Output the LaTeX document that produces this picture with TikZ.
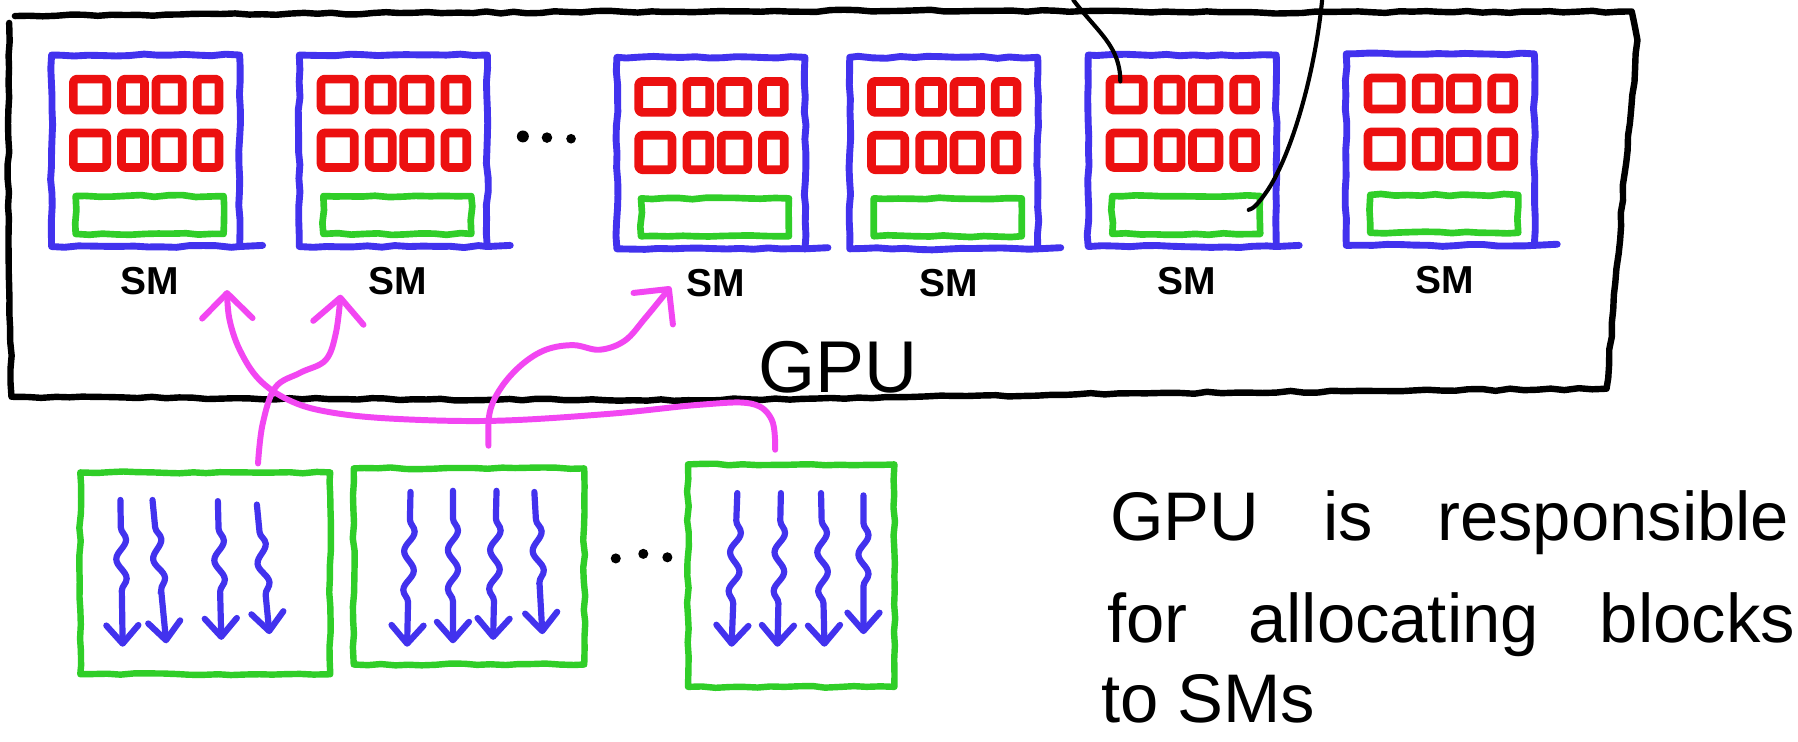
\documentclass[tikz,border=0pt]{standalone}
\usepackage{fontspec}
\setmainfont{Liberation Sans}
\usetikzlibrary{arrows.meta,decorations.pathmorphing}
\definecolor{penblue}{RGB}{66,50,238}
\definecolor{penred}{RGB}{236,16,16}
\definecolor{pengreen}{RGB}{48,206,40}
\definecolor{penmag}{RGB}{242,70,242}
\newcommand\smunit[3]{%
  \node[smbox] (#1) at ({#2+85},{#3+86.5}) {};
  \begin{scope}[shift={(#2,#3)}]
    \draw[blueline] (167,170) -- (187,169);
    \foreach \xa/\xb in {22/51,64/84,94/117,130/149}{
      \draw[redsq] (\xa,24) rectangle (\xb,51);
      \draw[redsq] (\xa,71) rectangle (\xb,101);
    }
    \draw[greenbar] (24,126) rectangle (153,159);
    \coordinate (#1r) at (35,37);
    \coordinate (#1g) at (88,142);
  \end{scope}
  \node[smlabel] (#1lab) at ({#2+89},{#3+200}) {SM};
}
\begin{document}
\begin{tikzpicture}[x=0.5pt,y=-0.5pt,
  hand/.style={decorate,decoration={random steps,segment length=6pt,amplitude=0.45pt},line join=round,line cap=round},
  smbox/.style={draw=penblue,line width=3pt,hand,minimum width=82pt,minimum height=83.5pt,inner sep=0pt},
  blueline/.style={draw=penblue,line width=3pt,line cap=round},
  redsq/.style={draw=penred,line width=3.8pt,line join=round,rounded corners=1.5pt},
  greenbar/.style={draw=pengreen,line width=2.9pt,hand},
  blockbox/.style={draw=pengreen,line width=2.8pt,hand,inner sep=0pt},
  thread/.style={draw=penblue,line width=2.7pt,line cap=round,
    -{Straight Barb[length=8pt,width=14pt,round]},
    decorate,decoration={snake,amplitude=2.2pt,segment length=17pt,pre length=12pt,post length=16pt}},
  alloc/.style={draw=penmag,line width=2.6pt,line cap=round,
    -{Straight Barb[length=11pt,width=22pt,round]}},
  wire/.style={draw=black,line width=1.8pt,line cap=round},
  gpuline/.style={draw=black,line width=2.8pt,hand},
  smlabel/.style={font=\fontsize{17}{20}\selectfont\bfseries,inner sep=0pt},
  rtext/.style={font=\fontsize{30}{36}\selectfont,inner sep=0pt,anchor=base west}]
\pgfmathsetseed{7}
\fill[white] (0,0) rectangle (1568,647);
\useasboundingbox (0,0) rectangle (1568,647);

% GPU outline
\draw[gpuline] (13,14) -- (400,11) -- (800,9) -- (1100,11) -- (1423,10) -- (1428,35)
  -- (1417,150) -- (1401,339) -- (1000,343) -- (600,349) -- (300,348) -- (10,346)
  -- (7,180) -- (8,20);

% SMs
\smunit{sm1}{42}{45}
\smunit{sm2}{258}{45}
\smunit{sm3}{535}{47}
\smunit{sm4}{738}{47}
\smunit{sm5}{946}{45}
\smunit{sm6}{1171}{44}

% dots between SMs
\fill (456,119) circle[radius=2.6pt];
\fill (477,120) circle[radius=2.3pt];
\fill (498,121) circle[radius=2.1pt];

% wires from above
\coordinate (wa) at (936,0);
\coordinate (wb) at (1153,0);
\draw[wire] (wa) .. controls (957,28) and (977,40) .. ([shift={(-4,-11)}]sm5r);
\draw[wire] (wb) .. controls (1146,70) and (1124,140) .. (1104,168)
  .. controls (1097,178) and (1093,182) .. ([shift={(55,-4)}]sm5g);

% GPU label
\node[font=\fontsize{32}{36}\selectfont,inner sep=0pt] (gpulab) at (731,320) {GPU};

% blocks
\node[blockbox,minimum width=109pt,minimum height=88pt] (b1) at (179,500) {};
\node[blockbox,minimum width=100.5pt,minimum height=85.5pt] (b2) at (409,494) {};
\node[blockbox,minimum width=90pt,minimum height=97pt] (b3) at (690,502) {};

% threads
\draw[thread] (105,436) -- (107,564);
\draw[thread] (133,436) -- (145,561);
\draw[thread] (190,437) -- (193,558);
\draw[thread] (224,440) -- (235,553);
\draw[thread] (358,429) -- (355,564);
\draw[thread] (395,428) -- (395,561);
\draw[thread] (433,428) -- (430,558);
\draw[thread] (466,429) -- (473,553);
\draw[thread] (643,430) -- (638,564);
\draw[thread] (681,430) -- (678,564);
\draw[thread] (716,430) -- (719,564);
\draw[thread] (753,432) -- (753,553);

% dots between blocks
\fill (537,487) circle[radius=2.2pt];
\fill (561,483) circle[radius=2.2pt];
\fill (582,486) circle[radius=2.2pt];

% allocation arrows
\coordinate (c1s) at ([shift={(46,-5)}]b1.north);
\coordinate (c1e) at ([shift={(39,39)}]sm2.south west);
\draw[alloc] plot[smooth,tension=0.6] coordinates {(c1s) (229,370) (240,338) (262,325) (284,314) (293,290) (c1e)};
\coordinate (c2s) at ([shift={(-14,-10)}]b3.north);
\coordinate (c2e) at ([shift={(-14,35)}]sm1.south east);
\draw[alloc] plot[smooth,tension=0.6] coordinates {(c2s) (673,366) (655,352) (610,353) (530,361) (430,367) (340,365) (285,359) (252,349) (226,331) (209,305) (200,278) (c2e)};
\coordinate (c3s) at ([shift={(17,-17)}]b2.north);
\coordinate (c3e) at ([shift={(50,30)}]sm3.south west);
\draw[alloc] plot[smooth,tension=0.6] coordinates {(c3s) (427,360) (437,338) (455,318) (476,305) (500,301) (523,305) (545,297) (563,277) (c3e)};

% explanation
\node[rtext] (t1) at (968,471) {\makebox[296pt][s]{GPU is responsible}};
\node[rtext] (t2) at (965,560) {\makebox[300pt][s]{for allocating blocks}};
\node[rtext] (t3) at (960,630) {to SMs};
\end{tikzpicture}
\end{document}
